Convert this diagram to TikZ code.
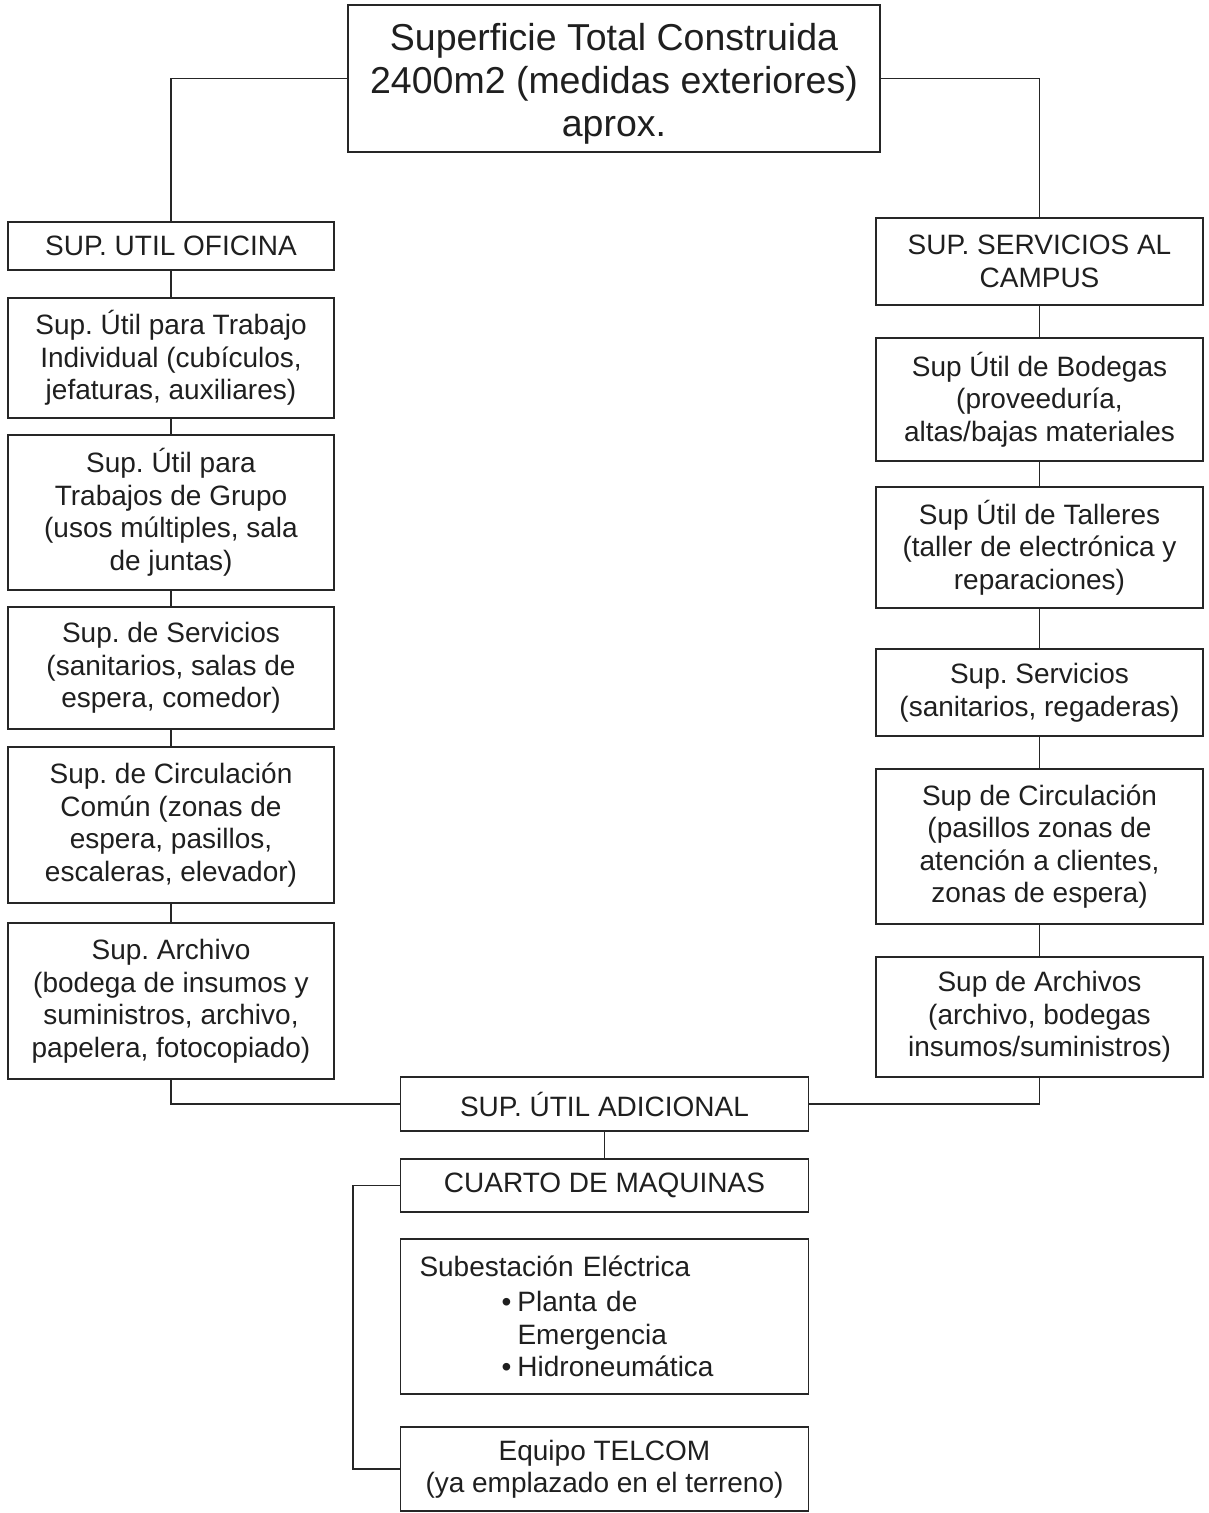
\documentclass[tikz,border=0pt]{standalone}
\usepackage{fontspec}
\setmainfont{Liberation Sans}
\frenchspacing
\begin{document}
\begin{tikzpicture}[x=1pt,y=-1pt,
  box/.style={draw=black!85, line width=1.7pt, inner sep=0pt, align=center,
    text=black!88, font=\fontsize{28}{32.5}\selectfont},
  lbox/.style={box, minimum width=326pt},
  rbox/.style={box, minimum width=327pt},
  bbox/.style={box, minimum width=408pt},
  link/.style={draw=black!85, line width=1.7pt}]
\useasboundingbox (0,0) rectangle (1209,1513);

% root
\node[box, minimum width=532pt, minimum height=147pt,
      font=\fontsize{37.5}{43}\selectfont] (root) at (614,78.5)
  {\rule{0pt}{37pt}Superficie Total Construida\\2400m2 (medidas exteriores)\\aprox.};

% office branch
\node[lbox, minimum height=48pt]  (o0) at (171,246)   {SUP. UTIL OFICINA};
\node[lbox, minimum height=120pt] (o1) at (171,358)   {Sup. Útil para Trabajo\\Individual (cubículos,\\jefaturas, auxiliares)};
\node[lbox, minimum height=155pt] (o2) at (171,512.5) {Sup. Útil para\\Trabajos de Grupo\\(usos múltiples, sala\\de juntas)};
\node[lbox, minimum height=122pt] (o3) at (171,668)   {Sup. de Servicios\\(sanitarios, salas de\\espera, comedor)};
\node[lbox, minimum height=156pt] (o4) at (171,825)   {Sup. de Circulación\\Común (zonas de\\espera, pasillos,\\escaleras, elevador)};
\node[lbox, minimum height=156pt] (o5) at (171,1001)  {Sup. Archivo\\(bodega de insumos y\\suministros, archivo,\\papelera, fotocopiado)};

% campus services branch
\node[rbox, minimum height=87pt]  (s0) at (1039.5,261.5) {SUP. SERVICIOS AL\\CAMPUS};
\node[rbox, minimum height=123pt] (s1) at (1039.5,399.5) {Sup Útil de Bodegas\\(proveeduría,\\altas/bajas materiales};
\node[rbox, minimum height=121pt] (s2) at (1039.5,547.5) {Sup Útil de Talleres\\(taller de electrónica y\\reparaciones)};
\node[rbox, minimum height=87pt]  (s3) at (1039.5,692.5) {Sup. Servicios\\(sanitarios, regaderas)};
\node[rbox, minimum height=155pt] (s4) at (1039.5,846.5) {Sup de Circulación\\(pasillos zonas de\\atención a clientes,\\zonas de espera)};
\node[rbox, minimum height=120pt] (s5) at (1039.5,1017)  {Sup de Archivos\\(archivo, bodegas\\insumos/suministros)};

% additional area
\node[bbox, minimum height=54pt]  (ad) at (604.5,1104)   {SUP. ÚTIL ADICIONAL};
\node[bbox, minimum height=53pt]  (cm) at (604.5,1185.5) {CUARTO DE MAQUINAS};
\node[bbox, minimum height=155pt, text width=370pt, align=left] (se) at (604.5,1316.5)
  {Subestación Eléctrica\\[3pt]
   \hspace*{82pt}\makebox[16pt][l]{\textbullet}Planta de\\
   \hspace*{98pt}Emergencia\\
   \hspace*{82pt}\makebox[16pt][l]{\textbullet}Hidroneumática};
\node[bbox, minimum height=84pt]  (tc) at (604.5,1469)   {Equipo TELCOM\\(ya emplazado en el terreno)};

% connectors
\draw[link] (root.west) -| (o0.north);
\draw[link] (root.east) -| (s0.north);
\foreach \a/\b in {o0/o1,o1/o2,o2/o3,o3/o4,o4/o5,s0/s1,s1/s2,s2/s3,s3/s4,s4/s5}
  \draw[link] (\a.south) -- (\b.north);
\draw[link] (o5.south) |- (ad.west);
\draw[link] (s5.south) |- (ad.east);
\draw[link] (ad.south) -- (cm.north);
\coordinate (br) at (353,1185.5);
\draw[link] (cm.west) -- (br) |- (tc.west);
\end{tikzpicture}
\end{document}
